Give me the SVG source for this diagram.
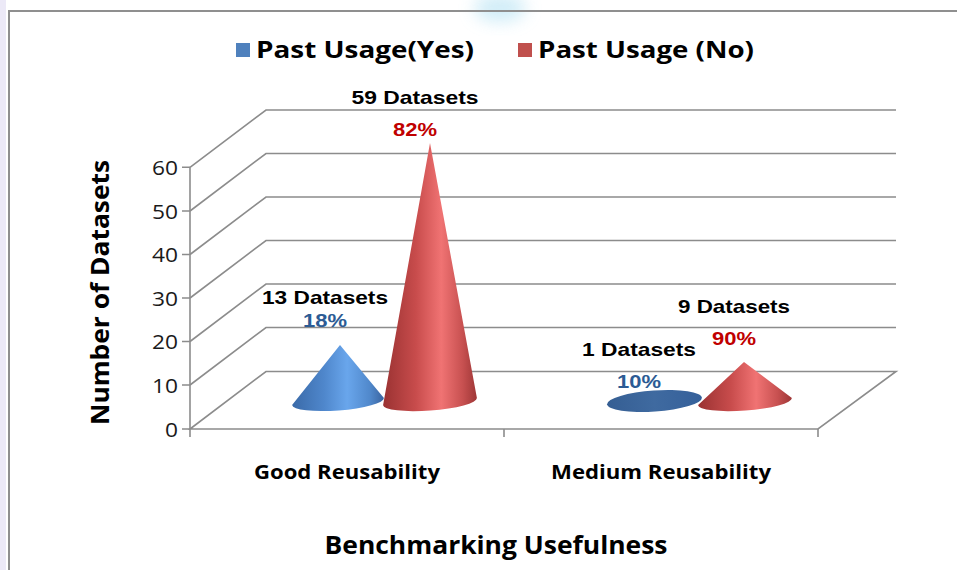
<svg xmlns="http://www.w3.org/2000/svg" width="957" height="570" viewBox="0 0 957 570">
<defs>
<style>
.grid{stroke:#8c8c8c;stroke-width:1.6;fill:none}
.frame{stroke:#8f8f8f;stroke-width:2;fill:none}
.ax{font-family:"Open Sans","Liberation Sans",sans-serif;font-size:20px;fill:#1a1a1a;text-anchor:end}
.lbl{font-family:"Liberation Sans","Open Sans",sans-serif;font-weight:bold;font-size:19px;fill:#000;text-anchor:middle}
.pb{font-family:"Liberation Sans","Open Sans",sans-serif;font-weight:bold;font-size:19px;fill:#2c5b94;text-anchor:middle}
.pr{font-family:"Liberation Sans","Open Sans",sans-serif;font-weight:bold;font-size:19px;fill:#c00000;text-anchor:middle}
.big{font-family:"Open Sans","Liberation Sans",sans-serif;font-weight:bold;font-size:23px;fill:#000}
.ttl{font-family:"Open Sans","Liberation Sans",sans-serif;font-weight:bold;font-size:25px;fill:#000;text-anchor:middle}
.cat{font-family:"Open Sans","Liberation Sans",sans-serif;font-weight:bold;font-size:20px;fill:#000;text-anchor:middle}
</style>
<linearGradient id="gb" x1="0" y1="0" x2="1" y2="0">
<stop offset="0" stop-color="#3a6aa8"/>
<stop offset="0.35" stop-color="#4f87cc"/>
<stop offset="0.6" stop-color="#69a6ec"/>
<stop offset="0.85" stop-color="#5088cb"/>
<stop offset="1" stop-color="#3a64a0"/>
</linearGradient>
<linearGradient id="gr" x1="0" y1="0" x2="1" y2="0">
<stop offset="0" stop-color="#9a3232"/>
<stop offset="0.35" stop-color="#c84c4c"/>
<stop offset="0.62" stop-color="#f07373"/>
<stop offset="0.85" stop-color="#c75050"/>
<stop offset="1" stop-color="#9e3636"/>
</linearGradient>
<linearGradient id="gd" x1="0" y1="0" x2="1" y2="0">
<stop offset="0" stop-color="#355e93"/>
<stop offset="0.5" stop-color="#3f6aa0"/>
<stop offset="1" stop-color="#35609a"/>
</linearGradient>
<filter id="blur" x="-50%" y="-50%" width="200%" height="200%"><feGaussianBlur stdDeviation="8"/></filter>
</defs>
<rect width="957" height="570" fill="#ffffff"/>
<ellipse cx="500" cy="8" rx="26" ry="14" fill="#bfe6f5" opacity="0.7" filter="url(#blur)"/>
<rect x="0" y="0" width="6" height="570" fill="#ece9f7"/>
<path class="frame" d="M9,570 V11 H957"/>

<g id="grid">
<path class="grid" d="M190,167.3 L266,110 H896 M190,211 L266,153.5 H896 M190,254.5 L266,197 H896 M190,298 L266,240.5 H896 M190,341.5 L266,284 H896 M190,385 L266,327.5 H896 M190,429 L266,371.5 H896 L818,429 H190 Z"/>
<path class="grid" d="M190,167.3 V437 M182,167.3 H190 M182,211 H190 M182,254.5 H190 M182,298 H190 M182,341.5 H190 M182,385 H190 M182,429 H190 M504,429 V437 M818,429 V437"/>
</g>

<g id="yaxis">
<text class="ax" x="178" y="175" textLength="26" lengthAdjust="spacingAndGlyphs">60</text>
<text class="ax" x="178" y="218.5" textLength="26" lengthAdjust="spacingAndGlyphs">50</text>
<text class="ax" x="178" y="262" textLength="26" lengthAdjust="spacingAndGlyphs">40</text>
<text class="ax" x="178" y="305.5" textLength="26" lengthAdjust="spacingAndGlyphs">30</text>
<text class="ax" x="178" y="349" textLength="26" lengthAdjust="spacingAndGlyphs">20</text>
<text class="ax" x="178" y="392.5" textLength="26" lengthAdjust="spacingAndGlyphs">10</text>
<text class="ax" x="178" y="436.5" textLength="13" lengthAdjust="spacingAndGlyphs">0</text>
</g>

<g id="legend">
<rect x="236" y="43" width="14" height="14" fill="#4f81bd"/>
<text class="big" x="256" y="57.5" textLength="218" lengthAdjust="spacingAndGlyphs">Past Usage(Yes)</text>
<rect x="518" y="43" width="14" height="14" fill="#c0504d"/>
<text class="big" x="538" y="57.5" textLength="216" lengthAdjust="spacingAndGlyphs">Past Usage (No)</text>
</g>

<g id="good-yes">
<path d="M292.1,405 L340,345 L383.9,398 A46,9 -4.3 0 1 292.1,405 Z" fill="url(#gb)"/>
<text class="lbl" x="325" y="304" textLength="126" lengthAdjust="spacingAndGlyphs">13 Datasets</text>
<text class="pb" x="325" y="327" textLength="44" lengthAdjust="spacingAndGlyphs">18%</text>
</g>

<g id="good-no">
<path d="M383.1,405 L430,143 L476.9,398 A47,9 -4.3 0 1 383.1,405 Z" fill="url(#gr)"/>
<text class="lbl" x="415" y="104" textLength="127" lengthAdjust="spacingAndGlyphs">59 Datasets</text>
<text class="pr" x="415" y="136" textLength="44" lengthAdjust="spacingAndGlyphs">82%</text>
</g>

<g id="medium-yes">
<ellipse cx="654.5" cy="401" rx="47.5" ry="10.5" transform="rotate(-4 654.5 401)" fill="url(#gd)"/>
<text class="lbl" x="639" y="356" textLength="114" lengthAdjust="spacingAndGlyphs">1 Datasets</text>
<text class="pb" x="639" y="388" textLength="44" lengthAdjust="spacingAndGlyphs">10%</text>
</g>

<g id="medium-no">
<path d="M698.1,405 L744,362 L791.9,398 A47,9 -4.3 0 1 698.1,405 Z" fill="url(#gr)"/>
<text class="lbl" x="734" y="313" textLength="112" lengthAdjust="spacingAndGlyphs">9 Datasets</text>
<text class="pr" x="734" y="345" textLength="44" lengthAdjust="spacingAndGlyphs">90%</text>
</g>

<g id="categories">
<text class="cat" x="347" y="479" textLength="186" lengthAdjust="spacingAndGlyphs">Good Reusability</text>
<text class="cat" x="661" y="479" textLength="220" lengthAdjust="spacingAndGlyphs">Medium Reusability</text>
</g>

<g id="titles">
<text class="ttl" x="496" y="554" textLength="343" lengthAdjust="spacingAndGlyphs">Benchmarking Usefulness</text>
<text class="ttl" transform="translate(109 292.5) rotate(-90)" x="0" y="0" textLength="265" lengthAdjust="spacingAndGlyphs">Number of Datasets</text>
</g>
</svg>
